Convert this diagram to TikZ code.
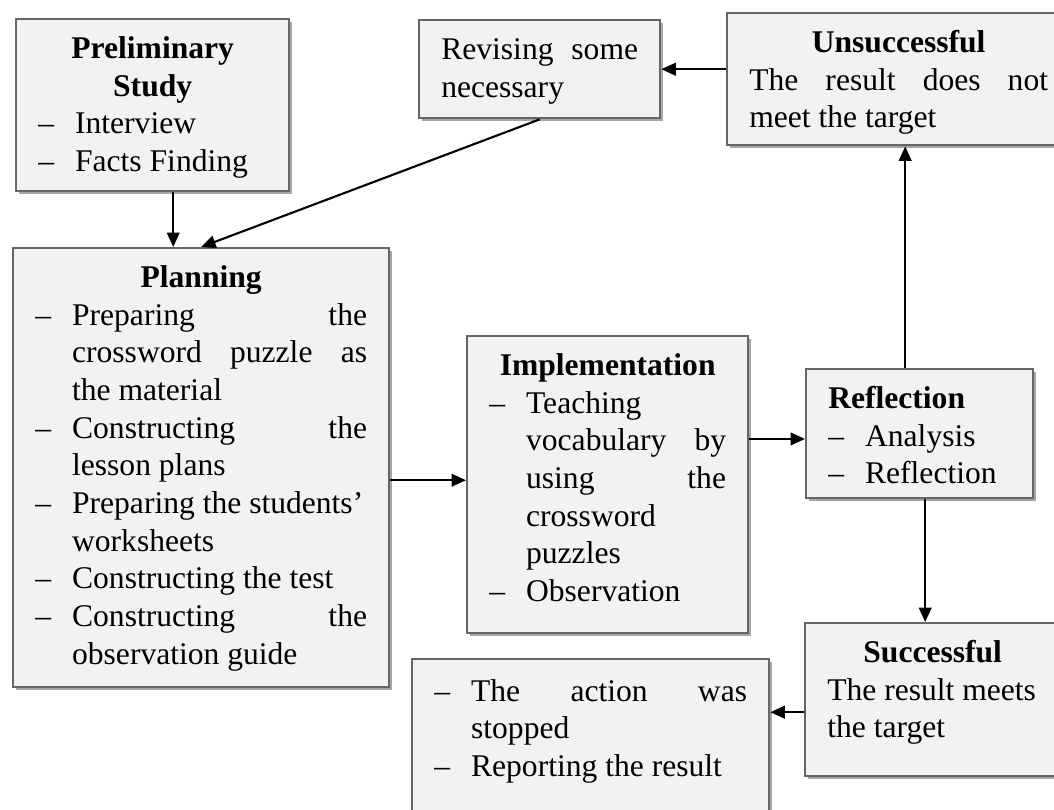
\documentclass[tikz,border=0pt]{standalone}
\usepackage{fontspec}
\setmainfont{Liberation Serif}
\usetikzlibrary{shadows,arrows.meta,calc}
\definecolor{boxfill}{HTML}{F2F2F2}
\definecolor{boxline}{HTML}{666666}
\newcommand{\itm}{\par\hangindent=14pt\hangafter=1\noindent\strut\makebox[14pt][l]{--}}
\newcommand{\hd}[1]{{\centering\bfseries\strut #1\par}}
\tikzset{
  box/.style={draw=boxline, line width=0.9pt, fill=boxfill, anchor=north west,
    inner xsep=8.4pt, inner ysep=5pt, font=\fontsize{12}{14.3}\selectfont,
    drop shadow={shadow xshift=1.1pt, shadow yshift=-1.1pt, fill=black!35, opacity=1}},
  arr/.style={-{Triangle[length=5.5pt,width=4.8pt]}, line width=0.8pt}
}
\begin{document}
\begin{tikzpicture}[x=0.38pt, y=-0.38pt]
\useasboundingbox (0,0) rectangle (1054,809);
\clip (0,0) rectangle (1054,809);

\node[box] (prelim) at (15,18) {\parbox[t][55.36pt][t]{86.94pt}{%
  \hd{Preliminary\\Study}
  \itm Interview
  \itm Facts Finding}};

\node[box] (revising) at (418,19) {\parbox[t][27.24pt][t]{74.78pt}{%
  \strut Revising\hfill some\\necessary}};

\node[box] (unsucc) at (726,12) {\parbox[t][40.16pt][t]{113.54pt}{%
  \hd{Unsuccessful}
  \strut The\hfill result\hfill does\hfill not\\meet the target}};

\node[box] (planning) at (12,247) {\parbox[t][156.82pt][t]{126.08pt}{%
  \hd{Planning}
  \itm Preparing\hfill the\\crossword\hfill puzzle\hfill as\\the material
  \itm Constructing\hfill the\\lesson plans
  \itm Preparing the students’\\worksheets
  \itm Constructing the test
  \itm Constructing\hfill the\\observation guide}};

\node[box] (impl) at (466,335) {\parbox[t][102.86pt][t]{89.98pt}{%
  \hd{Implementation}
  \itm Teaching\\vocabulary\hfill by\\using\hfill the\\crossword\\puzzles
  \itm Observation}};

\node[box] (reflection) at (805,368) {\parbox[t][39.02pt][t]{69.46pt}{%
  {\bfseries\strut Reflection\par}
  \itm Analysis
  \itm Reflection}};

\node[box] (succ) at (804,622) {\parbox[t][48.14pt][t]{80.1pt}{%
  \hd{Successful}
  \strut The result meets\\the target}};

\node[box] (stop) at (411,658) {\parbox[t][49.66pt][t]{118.86pt}{%
  \vspace*{1pt}
  \itm The\hfill action\hfill was\\stopped
  \itm Reporting the result}};

\coordinate (prelimout) at ([xshift=7.8pt]prelim.south);
\coordinate (implin) at ([yshift=1.7pt]impl.west);
\coordinate (reflin) at ([yshift=-2pt]reflection.west);
\coordinate (reflup) at ([xshift=-5.5pt]reflection.north);
\coordinate (refldown) at ([xshift=2.1pt]reflection.south);
\coordinate (succout) at ([yshift=-4.75pt]succ.west);

\draw[arr] (prelimout) -- (prelimout |- planning.north);
\draw[arr] (revising.south) -- (planning.north);
\draw[arr] (unsucc.west |- revising.east) -- (revising.east);
\draw[arr] (planning.east |- implin) -- (implin);
\draw[arr] (impl.east |- reflin) -- (reflin);
\draw[arr] (reflup) -- (reflup |- unsucc.south);
\draw[arr] (refldown) -- (refldown |- succ.north);
\draw[arr] (succout) -- (stop.east |- succout);
\end{tikzpicture}
\end{document}
